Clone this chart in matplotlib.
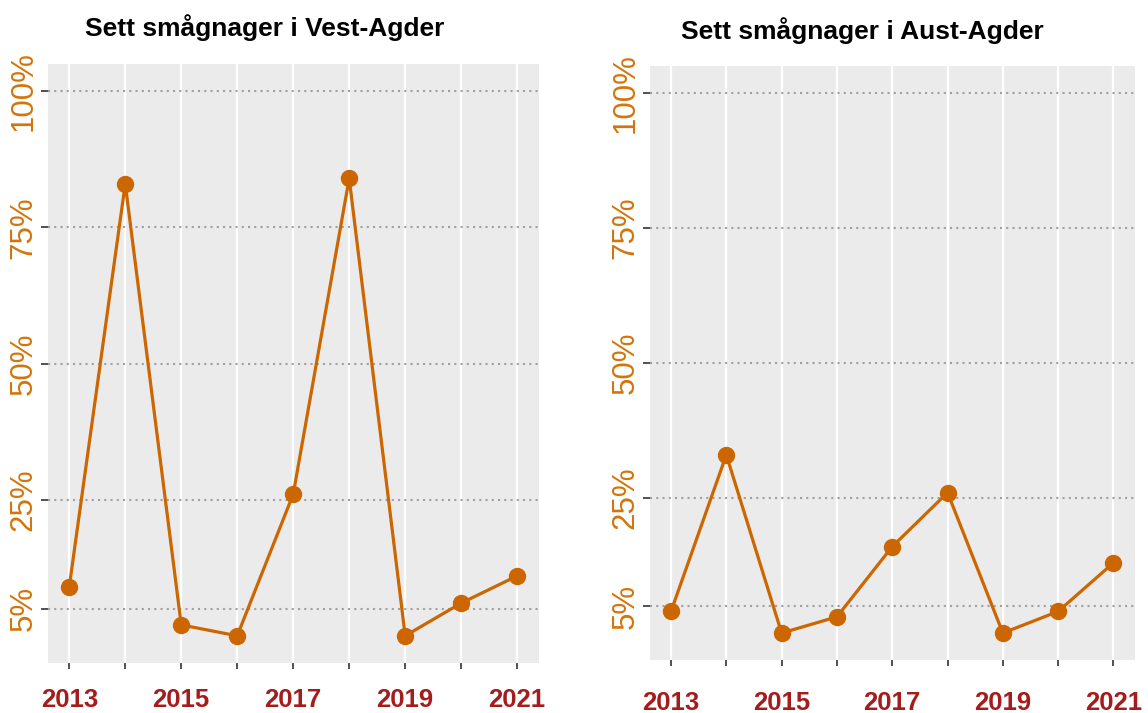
import numpy as np
import matplotlib.pyplot as plt

# data
years = [2013, 2014, 2015, 2016, 2017, 2018, 2019, 2020, 2021]
vest_agder = [9, 83, 2, 0, 26, 84, 0, 6, 11]
aust_agder = [4, 33, 0, 3, 16, 26, 0, 4, 13]
y_ticks = [5, 25, 50, 75, 100]
y_labels = ['5%', '25%', '50%', '75%', '100%']
x_labels = [str(y) if y % 2 == 1 else '' for y in years]

line_col = '#CC6600'
ylab_col = '#D4740A'
xlab_col = '#A51C1C'

plt.rcParams['font.family'] = ['Liberation Sans', 'DejaVu Sans']

fig = plt.figure(figsize=(11.48, 7.13), dpi=100)
ax1 = fig.add_axes([0.0418, 0.0701, 0.4277, 0.8401])
ax2 = fig.add_axes([0.5662, 0.0743, 0.4225, 0.8331])


def draw(ax, vals, title, tx, ty, xpad):
    ax.set_facecolor('#EBEBEB')
    for s in ax.spines.values():
        s.set_visible(False)
    for yr in years:
        ax.axvline(yr, color='white', lw=1.6, zorder=1)
    for t in y_ticks:
        ax.axhline(t, color='#A0A0A0', lw=1.5, ls=(0, (1, 2)), zorder=1)
    ax.plot(years, vals, color=line_col, lw=2.3, marker='o', ms=11.5, zorder=3)
    ax.set_xlim(2012.62, 2021.39)
    ax.set_ylim(-5, 105)
    ax.set_xticks(years)
    ax.set_xticklabels(x_labels, fontsize=18.5, fontweight='bold', color=xlab_col)
    ax.set_yticks(y_ticks)
    ax.set_yticklabels(y_labels, fontsize=22.5, color=ylab_col, rotation=90, va='center')
    ax.tick_params(axis='x', length=4, width=1.2, color='#333333', pad=xpad)
    ax.tick_params(axis='y', length=5, width=1.2, color='#333333', pad=2)
    fig.text(tx / 1148, 1 - ty / 713, title,
             ha='center', va='center', fontsize=19, fontweight='bold', color='black')


draw(ax1, vest_agder, 'Sett smågnager i Vest-Agder', 265, 28, 14)
draw(ax2, aust_agder, 'Sett smågnager i Aust-Agder', 862, 31, 18)

fig.savefig('out.png', dpi=100)
